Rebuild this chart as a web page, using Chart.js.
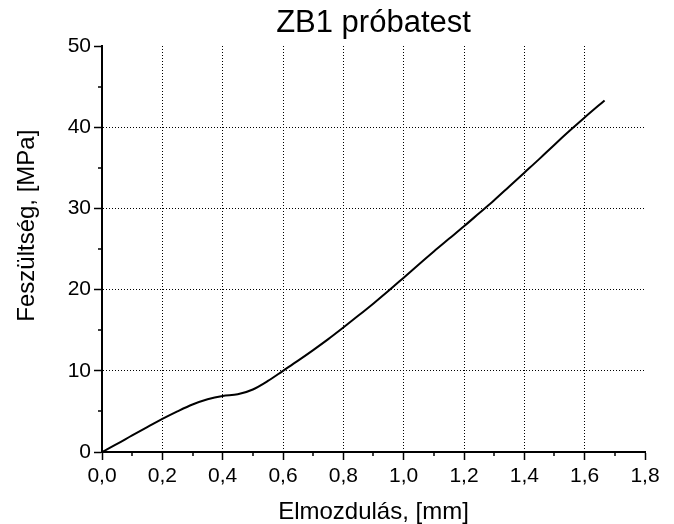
<!DOCTYPE html>
<html>
<head>
<meta charset="utf-8">
<script src="https://cdn.jsdelivr.net/npm/chart.js@4"></script>
<style>
  html, body { margin: 0; padding: 0; background: #fff; }
  #wrap { width: 674px; height: 524px; }
</style>
</head>
<body>
<div id="wrap"><canvas id="c" width="674" height="524"></canvas></div>
<script>
const chartTitle = 'ZB1 próbatest';
const xTitle = 'Elmozdulás, [mm]';
const yTitle = 'Feszültség, [MPa]';

const displacement = [0, 0.05, 0.1, 0.15, 0.2, 0.25, 0.3, 0.35, 0.4, 0.45, 0.5, 0.55, 0.6, 0.65, 0.7, 0.75, 0.8, 0.85, 0.9, 0.95, 1.0, 1.05, 1.1, 1.15, 1.2, 1.25, 1.3, 1.35, 1.4, 1.45, 1.5, 1.55, 1.6, 1.666];
const stress = [0, 1.0, 2.05, 3.07, 4.07, 5.0, 5.85, 6.5, 6.9, 7.1, 7.7, 8.75, 10.0, 11.25, 12.55, 13.9, 15.33, 16.8, 18.3, 19.85, 21.47, 23.1, 24.7, 26.25, 27.8, 29.4, 31.0, 32.7, 34.4, 36.1, 37.85, 39.55, 41.2, 43.3];

const xMin = 0, xMax = 1.8, xStep = 0.2, xMinorStep = 0.1;
const yMin = 0, yMax = 50, yStep = 10, yMinorStep = 5;

const points = displacement.map((x, i) => ({ x: x, y: stress[i] }));
const FONT = "'Liberation Sans', Arial, sans-serif";

function gridColor(max) {
  return (ctx) => {
    if (!ctx.tick) return '#000';
    const v = ctx.tick.value;
    if (Math.abs(v) < 1e-9 || Math.abs(v - max) < 1e-9) return 'rgba(0,0,0,0)';
    return '#000';
  };
}

const minorTicks = {
  id: 'minorTicks',
  afterDraw(chart) {
    const ctx = chart.ctx;
    const xs = chart.scales.x, ys = chart.scales.y;
    const area = chart.chartArea;
    ctx.save();
    ctx.strokeStyle = '#000';
    ctx.lineWidth = 1.5;
    ctx.beginPath();
    for (let v = xMin + xMinorStep; v < xMax; v += xStep) {
      const px = Math.round(xs.getPixelForValue(v));
      ctx.moveTo(px, area.bottom);
      ctx.lineTo(px, area.bottom + 4);
    }
    for (let v = yMin + yMinorStep; v < yMax; v += yStep) {
      const py = Math.round(ys.getPixelForValue(v));
      ctx.moveTo(area.left, py);
      ctx.lineTo(area.left - 4, py);
    }
    ctx.stroke();
    ctx.restore();
  }
};

new Chart(document.getElementById('c'), {
  type: 'scatter',
  data: {
    datasets: [{
      data: points,
      showLine: true,
      borderColor: '#000',
      backgroundColor: '#000',
      borderWidth: 2,
      pointRadius: 0,
      cubicInterpolationMode: 'monotone'
    }]
  },
  options: {
    responsive: false,
    animation: false,
    events: [],
    layout: { padding: { left: 0, right: 29, top: 0, bottom: 0 } },
    plugins: {
      legend: { display: false },
      tooltip: { enabled: false },
      title: {
        display: true,
        fullSize: false,
        text: chartTitle,
        color: '#000',
        font: { family: FONT, size: 31, weight: 'normal', lineHeight: 1 },
        padding: { top: 8, bottom: 7 }
      }
    },
    scales: {
      x: {
        type: 'linear',
        min: xMin, max: xMax,
        afterFit: (s) => { s.height = 72; },
        ticks: {
          stepSize: xStep,
          color: '#000',
          padding: 4,
          maxRotation: 0,
          font: { family: FONT, size: 21 },
          callback: (v) => v.toFixed(1).replace('.', ',')
        },
        grid: {
          color: gridColor(xMax),
          lineWidth: 1,
          drawTicks: true,
          tickLength: 8,
          tickColor: '#000',
          tickWidth: 1.5,
          tickBorderDash: []
        },
        border: { display: true, color: '#000', width: 2, dash: [1, 2] },
        title: {
          display: true,
          text: xTitle,
          color: '#000',
          font: { family: FONT, size: 24, lineHeight: 1 },
          padding: { top: 0, bottom: 0 }
        }
      },
      y: {
        type: 'linear',
        min: yMin, max: yMax,
        afterFit: (s) => { s.width = 102; },
        ticks: {
          stepSize: yStep,
          color: '#000',
          padding: 3,
          font: { family: FONT, size: 21 },
          callback: (v) => String(v)
        },
        grid: {
          color: gridColor(yMax),
          lineWidth: 1,
          drawTicks: true,
          tickLength: 8,
          tickColor: '#000',
          tickWidth: 1.5,
          tickBorderDash: []
        },
        border: { display: true, color: '#000', width: 2, dash: [1, 2] },
        title: {
          display: true,
          text: '\u00A0'.repeat(7) + yTitle,
          color: '#000',
          font: { family: FONT, size: 24, lineHeight: 1 },
          padding: { top: 15, bottom: 0 }
        }
      }
    }
  },
  plugins: [minorTicks]
});
</script>
</body>
</html>
